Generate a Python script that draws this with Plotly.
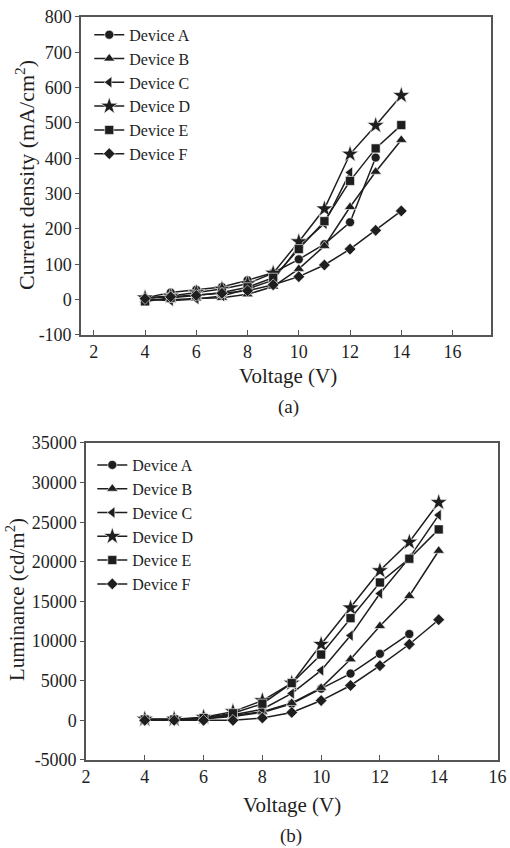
import plotly.graph_objects as go

# ---------------- data ----------------
devices = ["Device A", "Device B", "Device C", "Device D", "Device E", "Device F"]
symbols = ["circle", "triangle-up", "triangle-left", "star", "square", "diamond"]

# (a) current density (mA/cm2) vs voltage
v_a_A = [4, 5, 6, 7, 8, 9, 10, 11, 12, 13]
j_A = [5, 20, 28, 36, 55, 76, 114, 157, 219, 402]
v_a_B = [4, 5, 6, 7, 8, 9, 10, 11, 12, 13, 14]
j_B = [0, 0, 3, 5, 15, 37, 87, 152, 262, 362, 452]
v_a_C = [4, 5, 6, 7, 8, 9, 10, 11, 12]
j_C = [2, -3, 2, 10, 30, 55, 150, 215, 360]
v_a_D = [4, 5, 6, 7, 8, 9, 10, 11, 12, 13, 14]
j_D = [5, 10, 20, 30, 45, 75, 164, 257, 412, 493, 578]
v_a_E = [4, 5, 6, 7, 8, 9, 10, 11, 12, 13, 14]
j_E = [-5, 5, 12, 20, 35, 62, 143, 222, 336, 428, 494]
v_a_F = [4, 5, 6, 7, 8, 9, 10, 11, 12, 13, 14]
j_F = [3, 8, 12, 18, 25, 42, 65, 98, 143, 196, 251]

# (b) luminance (cd/m2) vs voltage
v_b_A = [4, 5, 6, 7, 8, 9, 10, 11, 12, 13]
L_A = [100, 100, 200, 500, 1000, 2100, 4000, 5900, 8400, 10900]
v_b_B = [4, 5, 6, 7, 8, 9, 10, 11, 12, 13, 14]
L_B = [100, 100, 200, 600, 1100, 2200, 4100, 7700, 11900, 15700, 21400]
v_b_C = [4, 5, 6, 7, 8, 9, 10, 11, 12, 13, 14]
L_C = [100, 100, 300, 700, 1400, 3400, 6300, 10700, 16000, 20500, 25900]
v_b_D = [4, 5, 6, 7, 8, 9, 10, 11, 12, 13, 14]
L_D = [150, 150, 400, 1100, 2500, 4700, 9600, 14200, 18900, 22500, 27500]
v_b_E = [4, 5, 6, 7, 8, 9, 10, 11, 12, 13, 14]
L_E = [100, 100, 300, 900, 2100, 4700, 8300, 12900, 17400, 20400, 24100]
v_b_F = [4, 5, 6, 7, 8, 9, 10, 11, 12, 13, 14]
L_F = [0, 0, 0, 0, 300, 1000, 2500, 4400, 6900, 9600, 12700]

x_ticks = [2, 4, 6, 8, 10, 12, 14, 16]
ya_ticks = [-100, 0, 100, 200, 300, 400, 500, 600, 700, 800]
ya_text = ["-100", "0", "100", "200", "300", "400", "500", "600", "700", "800"]
yb_ticks = [-5000, 0, 5000, 10000, 15000, 20000, 25000, 30000, 35000]
yb_text = ["-5000", "0", "5000", "10000", "15000", "20000", "25000", "30000", "35000"]

series_a = [(v_a_A, j_A), (v_a_B, j_B), (v_a_C, j_C), (v_a_D, j_D), (v_a_E, j_E), (v_a_F, j_F)]
series_b = [(v_b_A, L_A), (v_b_B, L_B), (v_b_C, L_C), (v_b_D, L_D), (v_b_E, L_E), (v_b_F, L_F)]

FONT = "Liberation Serif, Times New Roman, serif"
INK = "#1e1e1e"
msizes = {"circle": 9, "triangle-up": 10, "triangle-left": 10, "star": 13, "square": 9, "diamond": 9}

fig = go.Figure()
for name, sym, (x, y) in zip(devices, symbols, series_a):
    fig.add_trace(go.Scatter(
        x=x, y=y, name=name, mode="lines+markers", xaxis="x", yaxis="y", legend="legend",
        line=dict(color=INK, width=1.5),
        marker=dict(symbol=sym, size=msizes[sym], color=INK, line=dict(color="white", width=0.6)),
    ))
for name, sym, (x, y) in zip(devices, symbols, series_b):
    fig.add_trace(go.Scatter(
        x=x, y=y, name=name, mode="lines+markers", xaxis="x2", yaxis="y2", legend="legend2",
        line=dict(color=INK, width=1.5),
        marker=dict(symbol=sym, size=msizes[sym], color=INK, line=dict(color="white", width=0.6)),
    ))

axis_common = dict(showline=True, linecolor="#555", linewidth=1.5, mirror=True,
                   showgrid=False, zeroline=False, tickcolor="#555",
                   tickfont=dict(family=FONT, size=18, color=INK))

YTITLE_FONT = dict(family=FONT, size=22, color=INK)
YTITLE2_FONT = dict(family=FONT, size=21, color=INK)
XTITLE_FONT = dict(family=FONT, size=21, color=INK)
PANEL_FONT = dict(family=FONT, size=19, color=INK)

fig.update_layout(
    width=510, height=848,
    margin=dict(l=0, r=0, t=0, b=0, autoexpand=False),
    paper_bgcolor="white", plot_bgcolor="white",
    font=dict(family=FONT, color=INK),
    xaxis=dict(domain=[0.1588, 0.9627], anchor="y", range=[1.5, 17.5],
               tickvals=x_ticks, ticks="inside", ticklen=5, **axis_common),
    yaxis=dict(domain=[0.6050, 0.9800], anchor="x", range=[-100, 800],
               tickvals=ya_ticks, ticktext=ya_text, ticks="outside", ticklen=4, **axis_common),
    xaxis2=dict(domain=[0.1686, 0.9755], anchor="y2", range=[2, 16],
                tickvals=x_ticks, ticks="inside", ticklen=5, **axis_common),
    yaxis2=dict(domain=[0.1038, 0.4776], anchor="x2", range=[-5000, 35000],
                tickvals=yb_ticks, ticktext=yb_text, ticks="outside", ticklen=4, **axis_common),
    legend=dict(x=0.175, y=0.979, xanchor="left", yanchor="top", bgcolor="rgba(0,0,0,0)",
                font=dict(family=FONT, size=16, color=INK), tracegroupgap=0, itemwidth=30),
    legend2=dict(x=0.181, y=0.4717, xanchor="left", yanchor="top", bgcolor="rgba(0,0,0,0)",
                 font=dict(family=FONT, size=16, color=INK), tracegroupgap=0, itemwidth=30),
    annotations=[
        dict(text="Current density (mA/cm<sup>2</sup>)", textangle=-90, x=25 / 510, y=1 - 175 / 848,
             xref="paper", yref="paper", xanchor="center", yanchor="middle",
             showarrow=False, font=YTITLE_FONT),
        dict(text="Voltage (V)", x=288 / 510, y=1 - 376 / 848, xref="paper", yref="paper",
             xanchor="center", yanchor="middle", showarrow=False, font=XTITLE_FONT),
        dict(text="(a)", x=288 / 510, y=1 - 407 / 848, xref="paper", yref="paper",
             xanchor="center", yanchor="middle", showarrow=False, font=PANEL_FONT),
        dict(text="Luminance (cd/m<sup>2</sup>)", textangle=-90, x=15 / 510, y=1 - 600 / 848,
             xref="paper", yref="paper", xanchor="center", yanchor="middle",
             showarrow=False, font=YTITLE2_FONT),
        dict(text="Voltage (V)", x=292 / 510, y=1 - 805 / 848, xref="paper", yref="paper",
             xanchor="center", yanchor="middle", showarrow=False, font=XTITLE_FONT),
        dict(text="(b)", x=291 / 510, y=1 - 836 / 848, xref="paper", yref="paper",
             xanchor="center", yanchor="middle", showarrow=False, font=PANEL_FONT),
    ],
)

fig.write_html("out.html", config={"displayModeBar": False},
               post_script="document.body.style.margin='0';document.body.style.padding='0';document.body.style.overflow='hidden';")
